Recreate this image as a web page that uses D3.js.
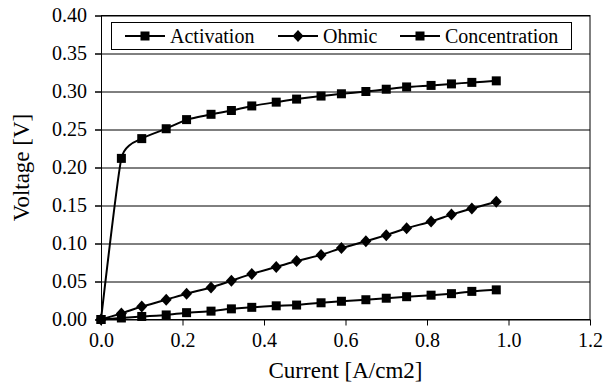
<!DOCTYPE html>
<html>
<head>
<meta charset="utf-8">
<script src="https://cdn.jsdelivr.net/npm/d3@7"></script>
<style>
  body { margin: 0; background: #fff; }
  text { font-family: "Liberation Serif", "Times New Roman", serif; fill: #000; }
</style>
</head>
<body>
<div class="chart"></div>
<script>
// current density [A/cm2]
const current = [0, 0.05, 0.10, 0.16, 0.21, 0.27, 0.32, 0.37, 0.43, 0.48, 0.54, 0.59, 0.65, 0.70, 0.75, 0.81, 0.86, 0.91, 0.97]
// voltage losses [V]
const activation = [0, 0.212, 0.238, 0.251, 0.263, 0.270, 0.275, 0.281, 0.286, 0.290, 0.294, 0.297, 0.300, 0.303, 0.306, 0.308, 0.310, 0.312, 0.314]
const ohmic = [0, 0.008, 0.017, 0.026, 0.034, 0.042, 0.051, 0.060, 0.069, 0.077, 0.085, 0.094, 0.103, 0.111, 0.120, 0.129, 0.138, 0.146, 0.155]
const concentration = [0, 0.002, 0.004, 0.006, 0.009, 0.011, 0.014, 0.016, 0.018, 0.019, 0.022, 0.024, 0.026, 0.028, 0.030, 0.032, 0.034, 0.037, 0.039]

const seriesNames = ['Activation', 'Ohmic', 'Concentration']
const seriesValues = [activation, ohmic, concentration]
const seriesMarkers = ['square', 'diamond', 'square']

const xTicks = [0, 0.2, 0.4, 0.6, 0.8, 1.0, 1.2]
const yTicks = [0, 0.05, 0.10, 0.15, 0.20, 0.25, 0.30, 0.35, 0.40]

const serif = '"Liberation Serif", "Times New Roman", serif'

const margin = {top: 15.5, right: 15, bottom: 64.5, left: 101}
const fullWidth = 605
const fullHeight = 384
const width = fullWidth - margin.left - margin.right
const height = fullHeight - margin.top - margin.bottom

const svg = d3.select('.chart')
  .append('svg')
    .attr('width', fullWidth)
    .attr('height', fullHeight)
  .append('g')
    .attr('transform', `translate(${margin.left}, ${margin.top})`)

const xScale = d3.scaleLinear().domain([0, 1.2]).range([0, width])
const yScale = d3.scaleLinear().domain([0, 0.4]).range([height, 0])

// horizontal grid lines (stick out a bit on the left like tick marks)
svg.append('g')
  .selectAll('line')
  .data(yTicks)
  .enter()
  .append('line')
    .attr('x1', -6)
    .attr('x2', width)
    .attr('y1', d => Math.round(yScale(d)) + 0.5)
    .attr('y2', d => Math.round(yScale(d)) + 0.5)
    .style('stroke', '#000')
    .style('stroke-width', 1)

// plot frame
svg.append('rect')
  .attr('x', 0.5)
  .attr('y', 0)
  .attr('width', width - 0.5)
  .attr('height', height)
  .style('fill', 'none')
  .style('stroke', '#000')
  .style('stroke-width', 1)

// y axis
const yAxis = svg.append('g')
  .call(d3.axisLeft(yScale).tickValues(yTicks).tickFormat(d3.format('.2f')).tickSize(6).tickPadding(8))
yAxis.attr('font-family', serif).attr('font-size', 20)
yAxis.select('.domain').remove()

// x axis
const xAxis = svg.append('g')
  .attr('transform', `translate(0, ${height})`)
  .call(d3.axisBottom(xScale).tickValues(xTicks).tickFormat(d3.format('.1f')).tickSize(6).tickPadding(7))
xAxis.attr('font-family', serif).attr('font-size', 20)
xAxis.select('.domain').remove()

// axis titles
svg.append('text')
  .attr('x', width / 2)
  .attr('y', height + 58)
  .attr('text-anchor', 'middle')
  .style('font-size', '23px')
  .text('Current [A/cm2]')

svg.append('text')
  .attr('transform', `translate(${-72}, ${height / 2}) rotate(-90)`)
  .attr('text-anchor', 'middle')
  .style('font-size', '23px')
  .text('Voltage [V]')

// lines, gently smoothed
const line = d3.line()
  .x((d, i) => xScale(current[i]))
  .y(d => yScale(d))
  .curve(d3.curveCardinal.tension(0.5))

function marker(sel, type) {
  if (type === 'square') {
    sel.append('rect')
      .attr('x', -4.5).attr('y', -4.5)
      .attr('width', 9).attr('height', 9)
      .style('fill', '#000')
  } else {
    sel.append('path')
      .attr('d', 'M0,-6L5.5,0L0,6L-5.5,0Z')
      .style('fill', '#000')
  }
}

seriesValues.forEach((vals, s) => {
  svg.append('path')
    .attr('d', line(vals))
    .style('fill', 'none')
    .style('stroke', '#000')
    .style('stroke-width', 2)

  svg.append('g')
    .selectAll('g')
    .data(vals)
    .enter()
    .append('g')
      .attr('transform', (d, i) => `translate(${xScale(current[i])}, ${yScale(d)})`)
      .each(function() { marker(d3.select(this), seriesMarkers[s]) })
})

// legend
const legend = svg.append('g')
  .attr('transform', `translate(${111 - margin.left}, ${22 - margin.top})`)

legend.append('rect')
  .attr('x', 0.5).attr('y', 0.5)
  .attr('width', 460).attr('height', 27)
  .style('fill', '#fff')
  .style('stroke', '#000')
  .style('stroke-width', 1)

const legendX = [14, 167, 289]
seriesNames.forEach((name, s) => {
  const item = legend.append('g').attr('transform', `translate(${legendX[s]}, 14)`)
  item.append('line')
    .attr('x1', 0).attr('x2', 40)
    .style('stroke', '#000')
    .style('stroke-width', 2)
  marker(item.append('g').attr('transform', 'translate(20, 0)'), seriesMarkers[s])
  item.append('text')
    .attr('x', 45)
    .attr('y', 6.5)
    .style('font-size', '20px')
    .text(name)
})
</script>
</body>
</html>
